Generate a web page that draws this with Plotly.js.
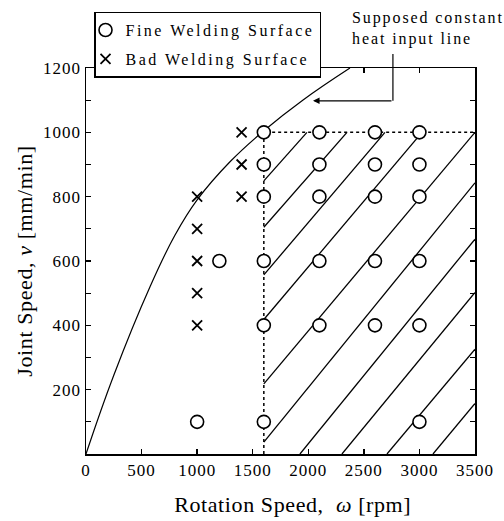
<!DOCTYPE html>
<html>
<head>
<meta charset="utf-8">
<script src="https://cdn.plot.ly/plotly-3.0.1.min.js"></script>
<style>
  html, body { margin: 0; padding: 0; background: #fff; }
  #chart { width: 504px; height: 521px; }
  .legendtext { letter-spacing: 2.5px; }
  .annotation-text { letter-spacing: 1.9px; }
  .xtick text, .ytick text { letter-spacing: 1px; }
  .xtitle, .ytitle { letter-spacing: 0.6px; }
</style>
</head>
<body>
<div id="chart"></div>
<script>
// Fine welding surface (open circles)
const fineOmega = [1600, 2100, 2600, 3000, 1600, 2100, 2600, 3000, 1600, 2100, 2600, 3000,
                   1200, 1600, 2100, 2600, 3000, 1600, 2100, 2600, 3000, 1000, 1600, 3000];
const fineV     = [1000, 1000, 1000, 1000, 900, 900, 900, 900, 800, 800, 800, 800,
                   600, 600, 600, 600, 600, 400, 400, 400, 400, 100, 100, 100];

// Bad welding surface (crosses)
const badOmega = [1000, 1000, 1000, 1000, 1000, 1400, 1400, 1400];
const badV     = [800, 700, 600, 500, 400, 1000, 900, 800];

// Supposed constant heat input line
const curveOmega = [0, 250, 576, 800, 1000, 1300, 1600, 1950, 2375];
const curveV     = [0, 245, 520, 680, 790, 910, 1005, 1100, 1200];

// Boundary of the good region (dotted)
const boundOmega = [1600, 1600, 3500];
const boundV     = [0, 1000, 1000];

// Hatch lines inside the good region (start / end)
const hatchStartOmega = [1600, 1600, 1600, 1600, 1600, 1600, 1925, 2303, 2708, 3122];
const hatchStartV     = [849, 705, 557, 418, 218, 37, 0, 0, 0, 0];
const hatchEndOmega   = [1988, 2348, 2690, 3023, 3500, 3500, 3500, 3500, 3500, 3500];
const hatchEndV       = [1000, 1000, 1000, 1000, 1000, 843, 668, 502, 326, 157];

// Axis ticks
const xTicks = [0, 500, 1000, 1500, 2000, 2500, 3000, 3500];
const yTicks = [200, 400, 600, 800, 1000, 1200];

const hx = [], hy = [];
for (let i = 0; i < hatchStartOmega.length; i++) {
  hx.push(hatchStartOmega[i], hatchEndOmega[i], null);
  hy.push(hatchStartV[i], hatchEndV[i], null);
}

const FONT = '"Liberation Serif", serif';

const traces = [
  { x: hx, y: hy, mode: 'lines', type: 'scatter', showlegend: false, hoverinfo: 'skip',
    line: { color: '#000', width: 1.3 }, connectgaps: false },
  { x: boundOmega, y: boundV, mode: 'lines', type: 'scatter', showlegend: false,
    line: { color: '#000', width: 1.5, dash: 'dot' } },
  { x: curveOmega, y: curveV, mode: 'lines', type: 'scatter', showlegend: false,
    line: { color: '#000', width: 1.2, shape: 'spline', smoothing: 1.2 } },
  { x: fineOmega, y: fineV, mode: 'markers', type: 'scatter', name: 'Fine Welding Surface',
    legendgroup: 'a',
    marker: { symbol: 'circle', size: 13, color: '#fff', line: { color: '#000', width: 1.6 } } },
  { x: badOmega, y: badV, mode: 'markers', type: 'scatter', name: 'Bad Welding Surface',
    legendgroup: 'b',
    marker: { symbol: 'x-thin-open', size: 10, color: '#000', line: { color: '#000', width: 1.8 } } }
];

const layout = {
  width: 504, height: 521,
  margin: { l: 86, r: 29, t: 64, b: 67 },
  paper_bgcolor: '#fff', plot_bgcolor: '#fff',
  font: { family: FONT, color: '#000', size: 17 },
  showlegend: true,
  legend: {
    x: 0.0206, y: 1.1462, xanchor: 'left', yanchor: 'top',
    bgcolor: '#fff', bordercolor: '#000', borderwidth: 1.5,
    font: { family: FONT, size: 16, color: '#000' },
    traceorder: 'grouped', tracegroupgap: 5, indentation: -10
  },
  xaxis: {
    range: [0, 3500], tickvals: xTicks, ticktext: xTicks.map(String),
    ticks: 'inside', ticklen: 5, tickwidth: 1.3, tickcolor: '#000',
    showline: true, linecolor: '#000', linewidth: 1.5, mirror: 'allticks',
    showgrid: false, zeroline: false,
    tickfont: { family: FONT, size: 17, color: '#000' },
    title: { text: '&nbsp;&nbsp;&nbsp;&nbsp;Rotation Speed,  <i>ω</i> [rpm]', font: { family: FONT, size: 22, color: '#000' }, standoff: 17 }
  },
  yaxis: {
    range: [0, 1200], tickvals: yTicks, ticktext: yTicks.map(String),
    ticks: 'inside', ticklen: 5, tickwidth: 1.3, tickcolor: '#000',
    minor: { dtick: 100, ticks: 'inside', ticklen: 5, tickwidth: 1.3, tickcolor: '#000', showgrid: false },
    showline: true, linecolor: '#000', linewidth: 1.5, mirror: 'allticks',
    showgrid: false, zeroline: false,
    tickfont: { family: FONT, size: 17, color: '#000' },
    title: { text: 'Joint Speed, <i>v</i> [mm/min]', font: { family: FONT, size: 22, color: '#000' }, standoff: 4 }
  },
  shapes: [
    { type: 'line', xref: 'paper', yref: 'paper', x0: 0.789, x1: 0.789, y0: 1.036, y1: 0.915,
      line: { color: '#000', width: 1.2 } }
  ],
  annotations: [
    { xref: 'paper', yref: 'paper', x: 0.5835, y: 0.915, text: '', showarrow: true,
      ax: 80, ay: 0, arrowhead: 2, arrowsize: 1.1, arrowwidth: 1.2, arrowcolor: '#000' },
    { xref: 'paper', yref: 'paper', x: 0.6787, y: 1.1026, xanchor: 'left', yanchor: 'middle', align: 'left',
      showarrow: false, text: 'Supposed constant<br>heat input line',
      font: { family: FONT, size: 16, color: '#000' } }
  ]
};

Plotly.newPlot('chart', traces, layout, { displayModeBar: false, staticPlot: true });
</script>
</body>
</html>
